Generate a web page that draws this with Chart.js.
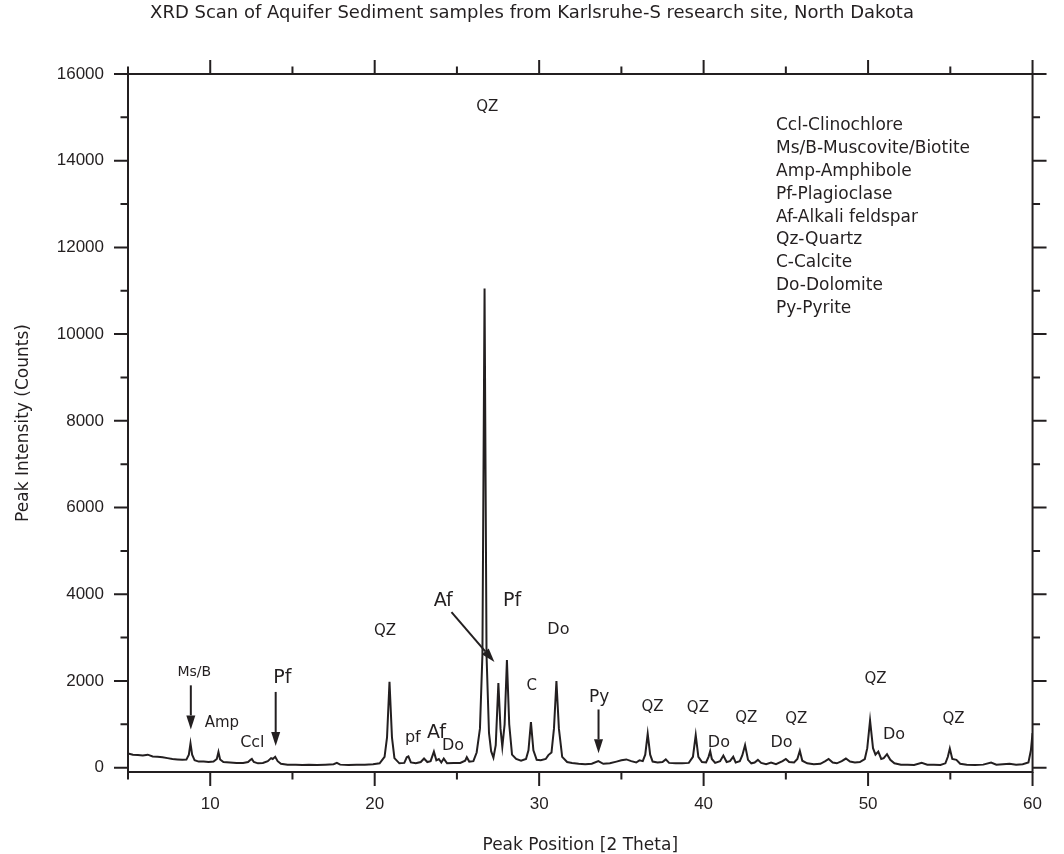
<!DOCTYPE html>
<html>
<head>
<meta charset="utf-8">
<title>XRD Scan</title>
<script src="https://cdn.jsdelivr.net/npm/chart.js@4.4.1/dist/chart.umd.min.js"></script>
<style>
  html, body { margin: 0; padding: 0; background: #ffffff; }
  #wrap { width: 1064px; height: 854px; }
</style>
</head>
<body>
<div id="wrap"><canvas id="xrd-chart" width="1064" height="854"></canvas></div>
<script>
// --- DATA ---
// Scan trace: 2-theta position and counts
const twoTheta = [
  5.0, 5.3, 5.6, 5.9, 6.2, 6.5, 6.8, 7.1, 7.4, 7.7, 8.0, 8.3, 8.55, 8.7, 8.8, 8.9, 9.05, 9.3, 9.6, 9.9,
  10.2, 10.4, 10.5, 10.6, 10.8, 11.2, 11.6, 12.0, 12.3, 12.45, 12.53, 12.65, 12.9, 13.2, 13.5, 13.7, 13.8, 13.95, 14.1, 14.3,
  14.7, 15.2, 15.6, 16.0, 16.5, 17.0, 17.5, 17.7, 17.9, 18.4, 18.9, 19.4, 19.9, 20.3, 20.6, 20.75, 20.9, 21.05, 21.2, 21.5,
  21.8, 21.95, 22.05, 22.2, 22.5, 22.8, 23.0, 23.2, 23.4, 23.6, 23.75, 23.9, 24.05, 24.2, 24.4, 24.8, 25.2, 25.5, 25.6, 25.75,
  26.0, 26.2, 26.4, 26.55, 26.68, 26.8, 26.95, 27.08, 27.22, 27.36, 27.52, 27.65, 27.76, 27.9, 28.04, 28.18, 28.35, 28.6, 28.9, 29.2,
  29.35, 29.5, 29.65, 29.85, 30.1, 30.4, 30.56, 30.75, 30.9, 31.05, 31.2, 31.4, 31.7, 32.0, 32.4, 32.8, 33.2, 33.6, 33.9, 34.3,
  34.7, 35.0, 35.3, 35.6, 35.9, 36.1, 36.3, 36.45, 36.6, 36.75, 36.9, 37.2, 37.5, 37.7, 37.9, 38.3, 38.7, 39.1, 39.35, 39.52,
  39.68, 39.9, 40.15, 40.3, 40.4, 40.5, 40.7, 41.0, 41.2, 41.4, 41.6, 41.8, 41.95, 42.2, 42.35, 42.52, 42.7, 42.9, 43.1, 43.3,
  43.5, 43.8, 44.1, 44.4, 44.8, 45.0, 45.2, 45.5, 45.7, 45.85, 46.0, 46.3, 46.7, 47.1, 47.4, 47.6, 47.85, 48.1, 48.4, 48.65,
  48.9, 49.2, 49.5, 49.8, 49.95, 50.12, 50.3, 50.45, 50.62, 50.8, 50.95, 51.15, 51.35, 51.6, 52.0, 52.4, 52.8, 53.26, 53.6, 54.0,
  54.4, 54.7, 54.85, 54.97, 55.12, 55.37, 55.6, 56.0, 56.5, 57.0, 57.48, 57.8, 58.2, 58.6, 59.0, 59.4, 59.75, 59.9, 60.0
];
const counts = [
  330, 300, 290, 280, 300, 260, 250, 240, 220, 200, 190, 180, 185, 300, 560, 300, 170, 140, 140, 130,
  140, 200, 360, 190, 130, 120, 110, 110, 130, 180, 200, 130, 100, 110, 150, 220, 200, 250, 150, 90,
  70, 70, 60, 70, 60, 70, 80, 110, 70, 60, 70, 70, 80, 100, 250, 700, 1980, 700, 220, 100,
  110, 240, 260, 120, 100, 130, 210, 130, 150, 370, 170, 200, 120, 210, 100, 110, 110, 160, 240, 140,
  150, 350, 900, 2600, 11050, 2600, 800, 380, 230, 520, 1950, 900, 480, 1000, 2480, 1000, 300, 200, 160, 200,
  400, 1050, 400, 180, 170, 200, 290, 350, 900, 2000, 900, 250, 130, 110, 90, 80, 90, 150, 90, 100,
  140, 170, 190, 150, 120, 170, 150, 300, 780, 300, 140, 120, 130, 190, 110, 100, 100, 110, 250, 750,
  250, 130, 120, 250, 380, 200, 110, 150, 280, 130, 150, 250, 120, 150, 280, 520, 180, 100, 120, 180,
  110, 80, 120, 80, 150, 200, 130, 120, 200, 390, 160, 100, 80, 90, 150, 200, 120, 100, 150, 210,
  140, 120, 130, 200, 450, 1090, 450, 300, 370, 200, 220, 310, 180, 100, 70, 70, 60, 110, 70, 70,
  60, 100, 250, 440, 200, 180, 90, 70, 60, 70, 120, 70, 80, 90, 70, 80, 120, 400, 800
];

// Axis ranges and tick values
const xMin = 5, xMax = 60;
const yMin = -100, yMax = 16000;
const xMajorTicks = [10, 20, 30, 40, 50, 60];
const xMinorTicks = [5, 15, 25, 35, 45, 55];
const yMajorTicks = [0, 2000, 4000, 6000, 8000, 10000, 12000, 14000, 16000];
const yMinorTicks = [1000, 3000, 5000, 7000, 9000, 11000, 13000, 15000];

// Peak labels (2-theta, counts where the text sits)
const peakText = ['QZ', 'Ms/B', 'Amp', 'Ccl', 'Pf', 'QZ', 'pf', 'Af', 'Do', 'Af', 'Pf', 'C', 'Do', 'Py',
  'QZ', 'QZ', 'Do', 'QZ', 'Do', 'QZ', 'QZ', 'Do', 'QZ'];
const peakX = [26.85, 9.03, 10.71, 12.56, 14.38, 20.63, 22.32, 23.76, 24.76, 24.17, 28.35, 29.55, 31.17, 33.65,
  36.89, 39.65, 40.93, 42.59, 44.74, 45.63, 50.45, 51.58, 55.2];
const peakY = [15230, 2200, 1034, 579, 2074, 3147, 699, 809, 503, 3837, 3844, 1890, 3172, 1618,
  1391, 1384, 572, 1154, 572, 1115, 2034, 759, 1115];

// Arrows: start and tip (2-theta, counts)
const arrowFromX = [8.82, 13.98, 24.67, 33.61];
const arrowFromY = [1899, 1747, 3586, 1342];
const arrowToX = [8.82, 13.98, 27.28, 33.61];
const arrowToY = [883, 499, 2437, 331];

// Mineral key
const keyLines = ['Ccl-Clinochlore', 'Ms/B-Muscovite/Biotite', 'Amp-Amphibole', 'Pf-Plagioclase',
  'Af-Alkali feldspar', 'Qz-Quartz', 'C-Calcite', 'Do-Dolomite', 'Py-Pyrite'];

// --- STYLE ---
const INK = '#231f20';
const TEXT_FONT = '"DejaVu Sans", "Liberation Sans", Arial, sans-serif';
const TICK_FONT = '"Liberation Sans", Arial, sans-serif';
// font size per peak label, same order as peakText
const peakFontPx = [15, 14, 15, 16, 19, 15, 16, 19, 16, 19, 19, 15, 16, 17,
  15, 15, 16, 15, 16, 15, 15, 16, 15];

/**
 * Draws the box frame with outward major/minor ticks on all four sides.
 */
function drawFrame(chart) {
  const { ctx, chartArea: a, scales: { x, y } } = chart;
  const major = 14, minor = 7.5;
  ctx.save();
  ctx.strokeStyle = INK;
  ctx.lineWidth = 2;
  ctx.lineCap = 'butt';
  ctx.strokeRect(a.left, a.top, a.right - a.left, a.bottom - a.top);
  ctx.beginPath();
  const xTick = (v, len) => {
    const px = x.getPixelForValue(v);
    ctx.moveTo(px, a.bottom); ctx.lineTo(px, a.bottom + len);
    ctx.moveTo(px, a.top); ctx.lineTo(px, a.top - len);
  };
  const yTick = (v, len) => {
    const py = y.getPixelForValue(v);
    ctx.moveTo(a.left, py); ctx.lineTo(a.left - len, py);
    ctx.moveTo(a.right, py); ctx.lineTo(a.right + len, py);
  };
  xMajorTicks.forEach(v => xTick(v, major));
  xMinorTicks.forEach(v => xTick(v, minor));
  yMajorTicks.forEach(v => yTick(v, major));
  yMinorTicks.forEach(v => yTick(v, minor));
  ctx.stroke();
  ctx.restore();
}

/**
 * Draws arrow with a filled head at the tip.
 */
function drawArrow(ctx, x0, y0, x1, y1) {
  const ang = Math.atan2(y1 - y0, x1 - x0);
  const headLen = 14, headHalf = 4.5;
  const bx = x1 - headLen * Math.cos(ang), by = y1 - headLen * Math.sin(ang);
  ctx.beginPath();
  ctx.moveTo(x0, y0);
  ctx.lineTo(bx, by);
  ctx.stroke();
  ctx.beginPath();
  ctx.moveTo(x1, y1);
  ctx.lineTo(bx + headHalf * Math.sin(ang), by - headHalf * Math.cos(ang));
  ctx.lineTo(bx - headHalf * Math.sin(ang), by + headHalf * Math.cos(ang));
  ctx.closePath();
  ctx.fill();
}

const annotationPlugin = {
  id: 'xrdAnnotations',
  afterDraw(chart) {
    const { ctx, scales: { x, y } } = chart;
    drawFrame(chart);

    ctx.save();
    ctx.fillStyle = INK;
    ctx.strokeStyle = INK;
    ctx.textAlign = 'center';
    ctx.textBaseline = 'middle';
    peakText.forEach((t, i) => {
      ctx.font = `${peakFontPx[i]}px ${TEXT_FONT}`;
      ctx.fillText(t, x.getPixelForValue(peakX[i]), y.getPixelForValue(peakY[i]));
    });

    ctx.lineWidth = 2;
    arrowFromX.forEach((_, i) => {
      drawArrow(ctx,
        x.getPixelForValue(arrowFromX[i]), y.getPixelForValue(arrowFromY[i]),
        x.getPixelForValue(arrowToX[i]), y.getPixelForValue(arrowToY[i]));
    });

    // mineral key, top right
    ctx.textAlign = 'left';
    ctx.font = `17px ${TEXT_FONT}`;
    keyLines.forEach((t, i) => ctx.fillText(t, 776, 126 + i * 22.8));
    ctx.restore();
  }
};

const ctx = document.getElementById('xrd-chart').getContext('2d');
new Chart(ctx, {
  type: 'line',
  data: {
    datasets: [{
      data: twoTheta.map((t, i) => ({ x: t, y: counts[i] })),
      borderColor: INK,
      borderWidth: 2,
      pointRadius: 0,
      tension: 0,
      fill: false
    }]
  },
  options: {
    responsive: false,
    animation: false,
    layout: { padding: 0 },
    plugins: {
      legend: { display: false },
      tooltip: { enabled: false },
      title: {
        display: true,
        text: 'XRD Scan of Aquifer Sediment samples from Karlsruhe-S research site, North Dakota',
        color: INK,
        font: { family: TEXT_FONT, size: 18, weight: 'normal' },
        padding: { top: 3, bottom: 49.4 }
      }
    },
    scales: {
      x: {
        type: 'linear',
        min: xMin,
        max: xMax,
        afterBuildTicks: s => { s.ticks = xMajorTicks.map(v => ({ value: v })); },
        afterFit: s => { s.height = 82; },
        grid: { display: false, drawTicks: false },
        border: { display: false },
        ticks: {
          color: INK,
          font: { family: TICK_FONT, size: 17 },
          padding: 22,
          maxRotation: 0,
          autoSkip: false,
          callback: v => String(v)
        },
        title: {
          display: true,
          text: 'Peak Position [2 Theta]',
          color: INK,
          font: { family: TEXT_FONT, size: 17, lineHeight: 1 },
          padding: { top: 0, bottom: 0 }
        }
      },
      y: {
        type: 'linear',
        min: yMin,
        max: yMax,
        afterBuildTicks: s => { s.ticks = yMajorTicks.map(v => ({ value: v })); },
        afterFit: s => { s.width = 128; },
        grid: { display: false, drawTicks: false },
        border: { display: false },
        ticks: {
          color: INK,
          font: { family: TICK_FONT, size: 17 },
          padding: 24,
          autoSkip: false,
          callback: v => String(v)
        },
        title: {
          display: true,
          text: 'Peak Intensity (Counts)',
          color: INK,
          font: { family: TEXT_FONT, size: 17 },
          padding: { top: 13, bottom: 0 }
        }
      },
      // right-hand mirror axis: no labels, only reserves the margin
      yRight: {
        type: 'linear',
        position: 'right',
        min: yMin,
        max: yMax,
        afterFit: s => { s.width = 24; },
        grid: { display: false, drawTicks: false },
        border: { display: false },
        ticks: { display: false }
      }
    }
  },
  plugins: [annotationPlugin]
});
</script>
</body>
</html>
